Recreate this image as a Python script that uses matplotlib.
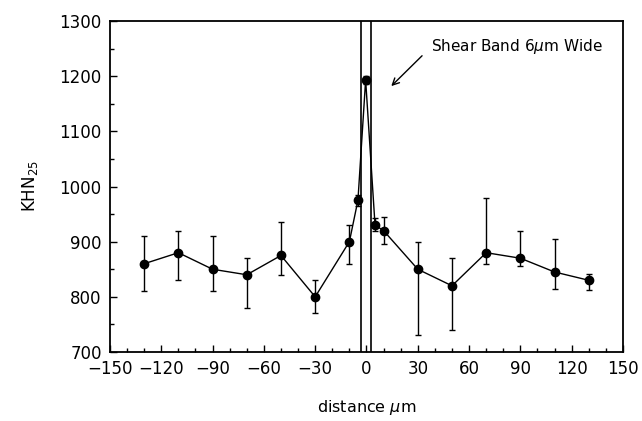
import matplotlib
matplotlib.use('Agg')
import matplotlib.pyplot as plt
from matplotlib.ticker import MultipleLocator

# microhardness across the shear band
distance = [-130, -110, -90, -70, -50, -30, -10, -5, -0.5, 5, 10, 30, 50, 70, 90, 110, 130]
khn = [860, 880, 850, 840, 875, 800, 900, 975, 1193, 930, 920, 850, 820, 880, 870, 845, 830]
err_up = [50, 40, 60, 30, 60, 30, 30, 10, 8, 12, 25, 50, 50, 100, 50, 60, 12]
err_down = [50, 50, 40, 60, 35, 30, 40, 10, 8, 10, 25, 120, 80, 20, 15, 30, 18]

# shear band edges (6 um wide)
band_edges = [-3.5, 2.5]

plt.rcParams['font.family'] = 'DejaVu Sans'

fig = plt.figure(figsize=(6.42, 4.21), dpi=100)
ax = fig.add_axes([0.1713, 0.1639, 0.7991, 0.7862])

ax.errorbar(distance, khn, yerr=[err_down, err_up], color='black', fmt='-o',
            markersize=6, linewidth=1.0, elinewidth=1.0, capsize=2.2, capthick=1.0)

for xe in band_edges:
    ax.axvline(x=xe, color='black', linewidth=1.2)

# label and a separate arrow pointing at the band
ax.text(38, 1253, 'Shear Band 6$\\mu$m Wide', fontsize=11, va='center', ha='left')
ax.annotate('', xy=(14.5, 1182), xytext=(32.5, 1237),
            arrowprops=dict(arrowstyle='->', color='black', lw=1.0,
                            shrinkA=0, shrinkB=0, mutation_scale=12))

ax.set_xlim(-150, 150)
ax.set_ylim(700, 1300)
ax.xaxis.set_minor_locator(MultipleLocator(10))
ax.yaxis.set_major_locator(MultipleLocator(100))
ax.yaxis.set_minor_locator(MultipleLocator(50))
ax.set_xticks([-150, -120, -90, -60, -30, 0, 30, 60, 90, 120, 150])
ax.set_xticklabels(['\u2212150', '\u2212120', '\u221290', '\u221260', '\u221230',
                    '0', '30', '60', '90', '120', '150'])
ax.tick_params(which='major', direction='in', length=5, width=1.0, labelsize=12, pad=6)
ax.tick_params(which='minor', direction='in', length=3, width=1.0)
for sp in ax.spines.values():
    sp.set_linewidth(1.3)

ax.set_xlabel('distance $\\mu$m', fontsize=11.5, labelpad=14)
ax.set_ylabel('KHN$_{25}$', fontsize=12, labelpad=14)

plt.savefig('out.png', dpi=100)
